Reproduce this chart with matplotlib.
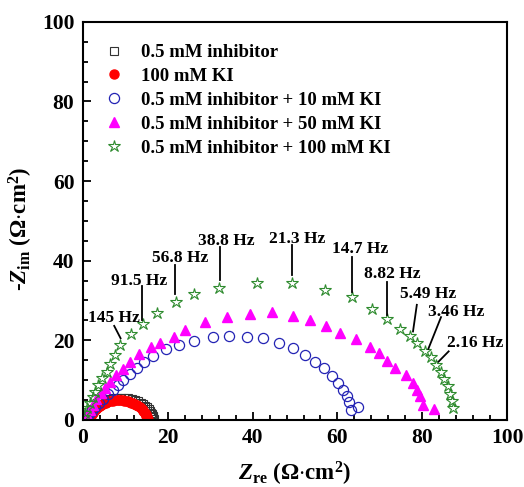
import matplotlib
matplotlib.use("Agg")
import matplotlib.pyplot as plt
from matplotlib.ticker import MultipleLocator

plt.rcParams['font.family'] = ['Liberation Serif', 'DejaVu Serif']
plt.rcParams['font.weight'] = 'bold'
plt.rcParams['mathtext.fontset'] = 'custom'
plt.rcParams['mathtext.rm'] = 'Liberation Serif:bold'
plt.rcParams['mathtext.it'] = 'Liberation Serif:italic:bold'
plt.rcParams['mathtext.bf'] = 'Liberation Serif:bold'

# 0.5 mM inhibitor (open squares)
sq_x = [1.2, 1.5, 1.9, 2.4, 3.0, 3.7, 4.5, 5.3, 6.2, 7.1, 8.0, 8.9, 9.8, 10.7, 11.5,
        12.3, 13.0, 13.6, 14.2, 14.7, 15.1, 15.5, 15.8, 16.1, 16.3, 16.5, 16.6, 16.7]
sq_y = [0.3, 1.1, 1.9, 2.7, 3.4, 4.0, 4.5, 4.9, 5.2, 5.5, 5.6, 5.6, 5.6, 5.5, 5.3,
        5.0, 4.7, 4.3, 3.9, 3.5, 3.1, 2.6, 2.2, 1.8, 1.4, 1.0, 0.6, 0.3]

# 100 mM KI (filled red circles)
ki_x = [1.6, 1.7, 1.9, 2.1, 2.3, 2.5, 2.8, 3.0, 3.3, 3.6, 4.0, 4.3, 4.7, 5.0, 5.4,
        5.8, 6.2, 6.6, 7.0, 7.4, 7.8, 8.2, 8.6, 9.0, 9.4, 9.8, 10.2, 10.6, 11.0,
        11.4, 11.8, 12.1, 12.5, 12.8, 13.1, 13.4, 13.7, 13.9, 14.1, 14.3, 14.5,
        14.7, 14.8, 14.9, 15.0, 15.1, 15.2, 15.2, 15.3]
ki_y = [0.3, 0.7, 1.0, 1.4, 1.7, 2.1, 2.4, 2.7, 3.0, 3.3, 3.5, 3.7, 3.9, 4.1, 4.3,
        4.5, 4.6, 4.7, 4.8, 4.9, 4.9, 4.9, 4.9, 4.9, 4.9, 4.8, 4.7, 4.6, 4.5,
        4.3, 4.2, 4.0, 3.8, 3.6, 3.4, 3.2, 2.9, 2.7, 2.4, 2.2, 1.9, 1.7, 1.4,
        1.2, 1.0, 0.8, 0.6, 0.4, 0.1]

# 0.5 mM inhibitor + 10 mM KI (open blue circles)
b_x = [64.9, 63.1, 62.8, 62.2, 61.4, 60.2, 58.8, 56.9, 54.7, 52.4, 49.6, 46.3, 42.4,
       38.6, 34.4, 30.6, 26.3, 22.6, 19.7, 16.6, 14.4, 12.7, 11.1, 9.5, 8.3, 7.0,
       5.9, 4.8, 3.8, 2.9, 2.1, 1.5, 1.0]
b_y = [3.3, 2.5, 4.4, 5.9, 7.5, 9.2, 11.1, 13.0, 14.4, 16.3, 18.0, 19.3, 20.5,
       20.9, 21.1, 20.7, 19.9, 18.8, 17.8, 16.1, 14.4, 13.0, 11.6, 10.1, 8.8, 7.6,
       6.4, 5.2, 4.1, 3.1, 2.2, 1.4, 0.7]

# 0.5 mM inhibitor + 50 mM KI (magenta triangles)
m_x = [82.8, 80.1, 79.5, 78.7, 77.9, 76.2, 73.6, 71.6, 69.7, 67.7, 64.4, 60.5, 57.3,
       53.5, 49.5, 44.5, 39.5, 33.9, 28.9, 24.1, 21.5, 18.2, 16.0, 13.3, 11.1, 9.4,
       7.8, 6.3, 5.2, 4.2, 3.2, 2.4, 1.7, 1.0]
m_y = [2.7, 3.8, 5.9, 7.5, 9.2, 11.3, 13.0, 14.7, 16.8, 18.4, 20.4, 21.9, 23.6,
       25.1, 26.2, 27.0, 26.5, 25.8, 24.5, 22.6, 20.9, 19.4, 18.3, 16.6, 14.5, 12.8,
       11.2, 9.6, 8.0, 6.7, 5.2, 3.8, 2.5, 1.3]

# 0.5 mM inhibitor + 100 mM KI (green stars)
g_x = [87.2, 86.9, 86.6, 86.0, 85.2, 84.4, 83.3, 82.0, 80.7, 78.8, 77.1, 74.8, 71.7,
       68.2, 63.4, 57.0, 49.3, 41.0, 32.2, 26.3, 21.9, 17.5, 14.1, 11.3, 8.8, 7.5,
       6.5, 5.6, 4.6, 3.6, 2.8, 2.3, 1.7, 1.0, 0.6, 0.2]
g_y = [2.9, 4.6, 6.5, 8.4, 10.2, 12.1, 13.8, 15.7, 17.3, 19.3, 21.1, 22.9, 25.3,
       27.9, 30.8, 32.5, 34.3, 34.3, 33.2, 31.6, 29.5, 26.8, 24.0, 21.5, 18.8, 16.3,
       14.1, 12.1, 10.5, 8.8, 7.1, 5.7, 4.2, 2.9, 1.7, 0.8]

# frequency labels on the green curve
freq_labels = ["145 Hz", "91.5 Hz", "56.8 Hz", "38.8 Hz", "21.3 Hz",
               "14.7 Hz", "8.82 Hz", "5.49 Hz", "3.46 Hz", "2.16 Hz"]
freq_tx = [7.3, 13.3, 23.0, 33.7, 50.6, 65.3, 73.0, 81.3, 87.9, 92.5]
freq_ty = [24.6, 33.9, 39.7, 44.0, 44.4, 41.9, 35.7, 30.6, 26.0, 18.3]
lead_x0 = [7.4, 14.0, 21.7, 32.3, 49.3, 63.4, 71.6, 78.7, 84.4, 86.2]
lead_y0 = [23.6, 33.7, 38.9, 43.5, 44.0, 41.0, 34.6, 28.9, 25.8, 17.2]
lead_x1 = [8.9, 14.0, 21.7, 32.3, 49.3, 63.4, 71.6, 77.8, 81.4, 83.8]
lead_y1 = [20.5, 25.1, 31.7, 35.2, 36.4, 32.2, 26.4, 22.2, 17.8, 14.6]

fig = plt.figure(figsize=(5.24, 4.87), dpi=100)
ax = fig.add_axes([0.158, 0.138, 0.81, 0.817])

ax.plot(sq_x, sq_y, ls='none', marker='s', ms=6, mfc='none', mec='#333333', mew=0.8,
        label='0.5 mM inhibitor')
ax.plot(ki_x, ki_y, ls='none', marker='o', ms=6.5, mfc='#ff0000', mec='#ff0000',
        label='100 mM KI')
ax.plot(b_x, b_y, ls='none', marker='o', ms=7.3, mfc='none', mec='#2323b4', mew=0.9,
        label='0.5 mM inhibitor + 10 mM KI')
ax.plot(m_x, m_y, ls='none', marker='^', ms=7.8, mfc='#ff00ff', mec='#ff00ff',
        label='0.5 mM inhibitor + 50 mM KI')
ax.plot(g_x, g_y, ls='none', marker='*', ms=9, mfc='none', mec='#2e8b2e', mew=0.8,
        label='0.5 mM inhibitor + 100 mM KI')

for i in range(len(freq_labels)):
    ax.plot([lead_x0[i], lead_x1[i]], [lead_y0[i], lead_y1[i]], color='black', lw=1.3)
    ax.text(freq_tx[i], freq_ty[i], freq_labels[i], ha='center', va='baseline',
            fontsize=12.5, fontweight='bold')

ax.set_xlim(0, 100)
ax.set_ylim(0, 100)
ax.xaxis.set_major_locator(MultipleLocator(20))
ax.xaxis.set_minor_locator(MultipleLocator(4))
ax.yaxis.set_major_locator(MultipleLocator(20))
ax.yaxis.set_minor_locator(MultipleLocator(5))
ax.tick_params(which='both', direction='in', top=False, right=False, width=1.3,
               labelsize=15.5, pad=6)
ax.tick_params(which='major', length=6)
ax.tick_params(which='minor', length=3.5)
for s in ax.spines.values():
    s.set_linewidth(1.5)

ax.set_xlabel(r'$Z_\mathrm{re}$ ($\Omega$$\cdot$cm$^\mathrm{2}$)', fontsize=16.5, fontweight='bold')
ax.set_ylabel(r'-$Z_\mathrm{im}$ ($\Omega$$\cdot$cm$^\mathrm{2}$)', fontsize=16.5, fontweight='bold')
ax.xaxis.set_label_coords(0.5, -0.1)
ax.yaxis.set_label_coords(-0.112, 0.48)

ax.legend(loc='upper left', bbox_to_anchor=(0.03, 0.968), frameon=False, borderpad=0,
          handlelength=1.0, handletextpad=0.9, labelspacing=0.36,
          prop={'size': 13.5, 'weight': 'bold'})

fig.savefig('out.png', dpi=100)
